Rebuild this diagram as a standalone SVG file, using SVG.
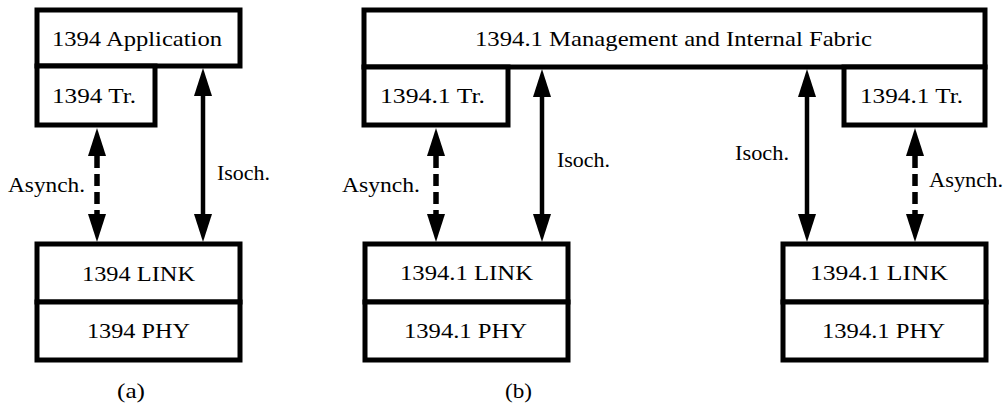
<svg xmlns="http://www.w3.org/2000/svg" width="1007" height="407" viewBox="0 0 1007 407">
<style>
.box{fill:#fff;stroke:#000;stroke-width:5}
.solid{stroke:#000;stroke-width:4.5;fill:none}
.dash{stroke:#000;stroke-width:5.5;fill:none;stroke-dasharray:12 6}
</style>
<defs>
<marker id="ah" markerUnits="userSpaceOnUse" markerWidth="30" markerHeight="20" refX="0" refY="10" orient="auto-start-reverse" viewBox="0 0 30 20">
<path d="M0,1 L28,10 L0,19 Z" fill="#000"/>
</marker>
</defs>
<rect width="1007" height="407" fill="#fff"/>
<g font-family="'Liberation Serif', serif" font-size="22" fill="#000">
<g id="a-app">
<rect class="box" x="37" y="10" width="203" height="56"/>
<text x="52" y="46" fill="#000" textLength="170" lengthAdjust="spacingAndGlyphs">1394 Application</text>
</g>
<g id="a-tr">
<rect class="box" x="37" y="66" width="118" height="59"/>
<text x="52" y="103" fill="#000" textLength="84" lengthAdjust="spacingAndGlyphs">1394 Tr.</text>
</g>
<g id="a-link">
<rect class="box" x="37" y="244" width="203" height="58"/>
<text x="82" y="281" fill="#000" textLength="113" lengthAdjust="spacingAndGlyphs">1394 LINK</text>
</g>
<g id="a-phy">
<rect class="box" x="37" y="302" width="203" height="58"/>
<text x="87" y="338" fill="#000" textLength="103" lengthAdjust="spacingAndGlyphs">1394 PHY</text>
</g>
<g id="b-mgmt">
<rect class="box" x="364" y="10" width="621" height="57"/>
<text x="475" y="46" fill="#000" textLength="397" lengthAdjust="spacingAndGlyphs">1394.1 Management and Internal Fabric</text>
</g>
<g id="b-tr-left">
<rect class="box" x="364" y="67" width="144" height="58"/>
<text x="380" y="103" fill="#000" textLength="105" lengthAdjust="spacingAndGlyphs">1394.1 Tr.</text>
</g>
<g id="b-tr-right">
<rect class="box" x="844" y="67" width="141" height="58"/>
<text x="860" y="103" fill="#000" textLength="103" lengthAdjust="spacingAndGlyphs">1394.1 Tr.</text>
</g>
<g id="b-link-left">
<rect class="box" x="365" y="244" width="203" height="58"/>
<text x="400" y="280" fill="#000" textLength="133" lengthAdjust="spacingAndGlyphs">1394.1 LINK</text>
</g>
<g id="b-phy-left">
<rect class="box" x="365" y="302" width="203" height="58"/>
<text x="404" y="338" fill="#000" textLength="123" lengthAdjust="spacingAndGlyphs">1394.1 PHY</text>
</g>
<g id="b-link-right">
<rect class="box" x="783" y="244" width="203" height="58"/>
<text x="810" y="280" fill="#000" textLength="138" lengthAdjust="spacingAndGlyphs">1394.1 LINK</text>
</g>
<g id="b-phy-right">
<rect class="box" x="783" y="302" width="203" height="58"/>
<text x="822" y="338" fill="#000" textLength="123" lengthAdjust="spacingAndGlyphs">1394.1 PHY</text>
</g>
<g id="connectors" marker-start="url(#ah)" marker-end="url(#ah)">
<line class="dash" x1="97" y1="156" x2="97" y2="214"/>
<line class="solid" x1="203" y1="96" x2="203" y2="214"/>
<line class="dash" x1="436" y1="156" x2="436" y2="214"/>
<line class="solid" x1="542" y1="97" x2="542" y2="214"/>
<line class="solid" x1="807" y1="97" x2="807" y2="214"/>
<line class="dash" x1="915" y1="156" x2="915" y2="214"/>
</g>
<g id="labels">
<text x="8" y="192" textLength="77" lengthAdjust="spacingAndGlyphs">Asynch.</text>
<text x="217" y="180" textLength="53" lengthAdjust="spacingAndGlyphs">Isoch.</text>
<text x="342" y="192" textLength="78" lengthAdjust="spacingAndGlyphs">Asynch.</text>
<text x="557" y="167" textLength="53" lengthAdjust="spacingAndGlyphs">Isoch.</text>
<text x="735" y="160" textLength="54" lengthAdjust="spacingAndGlyphs">Isoch.</text>
<text x="929" y="187" textLength="74" lengthAdjust="spacingAndGlyphs">Asynch.</text>
<text x="117" y="398" textLength="28" lengthAdjust="spacingAndGlyphs">(a)</text>
<text x="505" y="398" textLength="27" lengthAdjust="spacingAndGlyphs">(b)</text>
</g>
</g>
</svg>
